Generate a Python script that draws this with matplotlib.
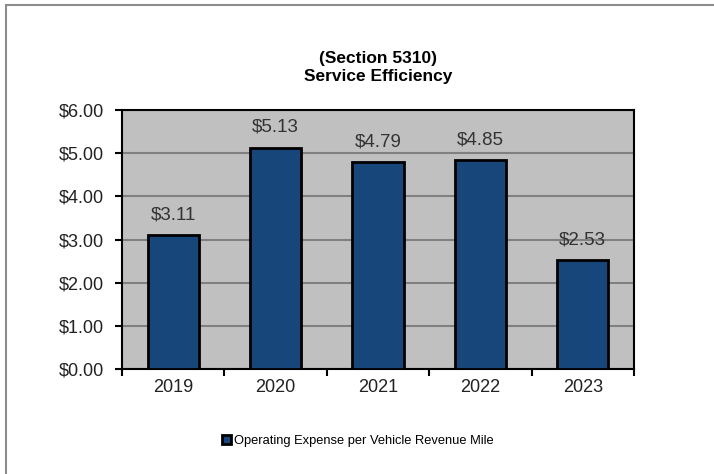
import matplotlib.pyplot as plt
from matplotlib.patches import Rectangle
import numpy as np

years = ['2019', '2020', '2021', '2022', '2023']
cost_per_mile = [3.11, 5.13, 4.79, 4.85, 2.53]
y_ticks = [0, 1, 2, 3, 4, 5, 6]

plt.rcParams['font.family'] = ['Liberation Sans', 'DejaVu Sans']

fig = plt.figure(figsize=(7.14, 4.74), dpi=100)
fig.patches.append(Rectangle((6 / 714, -0.1), 1.2, 1.1 - 5 / 474, transform=fig.transFigure,
                             fill=False, edgecolor='#8c8c8c', linewidth=1.5))

ax = fig.add_axes([122 / 714, 1 - 369 / 474, 512 / 714, 259 / 474])
ax.set_facecolor('#c0c0c0')
x = np.arange(len(years))
ax.bar(x, cost_per_mile, width=0.5, color='#17477a', edgecolor='black', linewidth=2, zorder=3,
       label='Operating Expense per Vehicle Revenue Mile')
for xi, v in zip(x, cost_per_mile):
    ax.annotate(f'${v:.2f}', (xi, v), xytext=(0, 14.5), textcoords='offset points',
                ha='center', va='center', fontsize=13.5, color='#333333')

ax.set_xlim(-0.5, 4.5)
ax.set_ylim(0, 6)
ax.set_yticks(y_ticks)
ax.set_yticklabels([f'${t:.2f}' for t in y_ticks], fontsize=13, color='#222222')
ax.set_xticks(x)
ax.set_xticklabels(years, fontsize=13, color='#222222')
ax.set_xticks(np.arange(-0.5, 5, 1), minor=True)
ax.tick_params(axis='x', which='major', length=0, pad=7)
ax.tick_params(axis='x', which='minor', length=5, width=1.5, direction='out')
ax.tick_params(axis='y', length=5, width=1.5, direction='out', pad=8)
ax.yaxis.grid(True, color='#808080', linewidth=1.5, zorder=0)
ax.set_axisbelow(True)
for sp in ax.spines.values():
    sp.set_linewidth(1.5)
    sp.set_color('black')

title_font = dict(ha='center', va='center', fontsize=12.5, fontweight='bold')
fig.text(378 / 714, 1 - 58 / 474, '(Section 5310)', **title_font)
fig.text(378 / 714, 1 - 77 / 474, 'Service Efficiency', **title_font)

fig.legend(loc='center', bbox_to_anchor=(358 / 714, 1 - 441 / 474), frameon=False,
           fontsize=9.3, handlelength=0.7, handleheight=0.7, handletextpad=0.2)

fig.savefig('out.png', dpi=100)
